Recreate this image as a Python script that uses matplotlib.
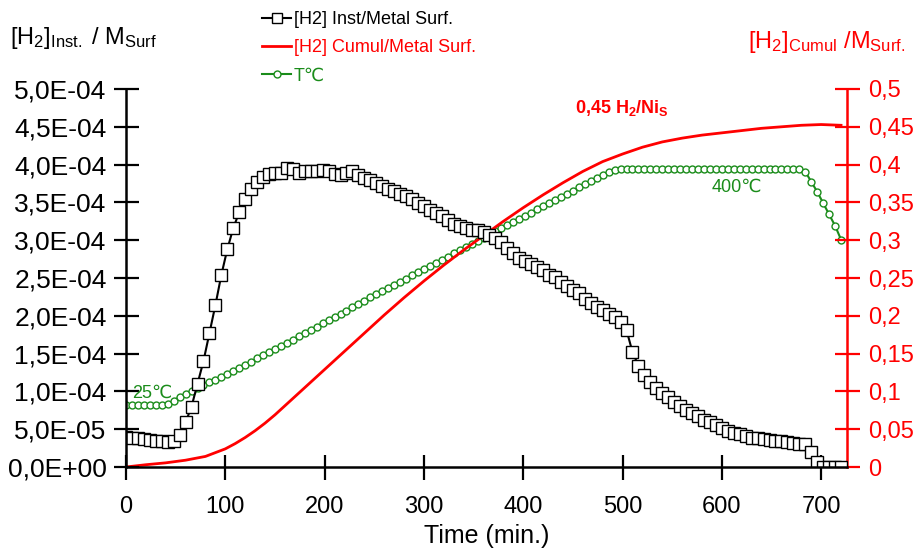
import matplotlib
matplotlib.use("Agg")
import matplotlib.pyplot as plt
import matplotlib.ticker as ticker
from matplotlib.lines import Line2D

plt.rcParams['font.family'] = ['Liberation Sans', 'DejaVu Sans']
plt.rcParams['mathtext.fontset'] = 'custom'
plt.rcParams['mathtext.rm'] = 'Liberation Sans'
plt.rcParams['mathtext.it'] = 'Liberation Sans'
plt.rcParams['mathtext.bf'] = 'Liberation Sans:bold'

# --- Daten ---
# Zeitraster in min (ca. 6 min Abstand)
zeit = [0, 6, 12, 18, 24, 30, 36, 42, 48, 54, 60, 66, 72, 78, 84, 90, 96, 102, 108, 114,
        120, 126, 132, 138, 144, 150, 156, 162, 168, 174, 180, 186, 192, 198, 204, 210, 216, 222, 228, 234,
        240, 246, 252, 258, 264, 270, 276, 282, 288, 294, 300, 306, 312, 318, 324, 330, 336, 342, 348, 354,
        360, 366, 372, 378, 384, 390, 396, 402, 408, 414, 420, 426, 432, 438, 444, 450, 456, 462, 468, 474,
        480, 486, 492, 498, 504, 510, 516, 522, 528, 534, 540, 546, 552, 558, 564, 570, 576, 582, 588, 594,
        600, 606, 612, 618, 624, 630, 636, 642, 648, 654, 660, 666, 672, 678, 684, 690, 696, 702, 708, 714,
        720]

# [H2] inst / Metal Surf. (Einheit 1E-04)
h2_inst = [0.40, 0.39, 0.38, 0.37, 0.36, 0.35, 0.34, 0.33, 0.34, 0.42, 0.59, 0.80, 1.10, 1.40, 1.77, 2.14, 2.54, 2.88, 3.16, 3.37,
           3.55, 3.68, 3.77, 3.84, 3.88, 3.89, 3.89, 3.96, 3.94, 3.89, 3.91, 3.92, 3.92, 3.93, 3.92, 3.88, 3.86, 3.89, 3.92, 3.86,
           3.82, 3.80, 3.76, 3.72, 3.68, 3.65, 3.61, 3.58, 3.54, 3.49, 3.45, 3.40, 3.36, 3.32, 3.27, 3.22, 3.19, 3.16, 3.14, 3.13,
           3.11, 3.07, 3.03, 2.97, 2.90, 2.83, 2.76, 2.72, 2.69, 2.65, 2.60, 2.54, 2.51, 2.45, 2.39, 2.34, 2.30, 2.22, 2.17, 2.12,
           2.08, 2.03, 1.99, 1.92, 1.81, 1.52, 1.34, 1.22, 1.13, 1.05, 0.98, 0.92, 0.86, 0.81, 0.75, 0.71, 0.67, 0.62, 0.59, 0.55,
           0.51, 0.48, 0.45, 0.43, 0.41, 0.39, 0.38, 0.37, 0.36, 0.35, 0.34, 0.33, 0.32, 0.31, 0.30, 0.20, 0.07, 0.00, 0.00, 0.00,
           0.00]

# Temperatur in °C
temp = [25, 25, 25, 25, 25, 25, 25, 27, 32, 38, 43, 48, 52, 57, 61, 65, 70, 74, 79, 84,
        89, 94, 99, 104, 109, 114, 119, 124, 129, 134, 139, 144, 149, 155, 160, 165, 170, 175, 180, 185,
        190, 196, 201, 206, 211, 216, 221, 226, 231, 236, 241, 246, 251, 256, 261, 266, 271, 276, 281, 286,
        291, 296, 301, 306, 311, 316, 321, 326, 331, 336, 341, 346, 351, 356, 361, 366, 371, 376, 381, 386,
        391, 396, 399, 400, 400, 400, 400, 400, 400, 400, 400, 400, 400, 400, 400, 400, 400, 400, 400, 400,
        400, 400, 400, 400, 400, 400, 400, 400, 400, 400, 400, 400, 400, 400, 396, 380, 364, 346, 328, 310,
        288]

# [H2] kumuliert / Metal Surf.
zeit_cumul = [0, 20, 40, 60, 80, 100, 110, 120, 130, 140, 150, 160, 170, 180, 190, 200, 220, 240, 260, 280, 300, 320,
              340, 360, 380, 400, 420, 440, 460, 480, 500, 520, 540, 560, 580, 600, 620, 640, 660, 680, 700, 720]
h2_cumul = [0.000, 0.003, 0.0055, 0.009, 0.014, 0.024, 0.031, 0.039, 0.048, 0.058, 0.069, 0.081, 0.093, 0.105,
            0.117, 0.129, 0.153, 0.177, 0.201, 0.224, 0.246, 0.267, 0.287, 0.306, 0.325, 0.343, 0.360, 0.376, 0.391,
            0.404, 0.414, 0.423, 0.430, 0.435, 0.439, 0.442, 0.445, 0.448, 0.450, 0.452, 0.453, 0.452]

xticks = [0, 100, 200, 300, 400, 500, 600, 700]
left_ticks = [0, 5e-5, 1e-4, 1.5e-4, 2e-4, 2.5e-4, 3e-4, 3.5e-4, 4e-4, 4.5e-4, 5e-4]
right_ticks = [0, 0.05, 0.1, 0.15, 0.2, 0.25, 0.3, 0.35, 0.4, 0.45, 0.5]

rot = '#ff0000'
gruen = '#1a8c1a'

fig = plt.figure(figsize=(9.15, 5.5), dpi=100)
ax = fig.add_axes([126 / 915, 83 / 550, 721 / 915, 378 / 550])
ax2 = ax.twinx()
ax3 = ax.twinx()

# Reihenfolge: Temperatur unten, kumuliert Mitte, inst oben
ax3.set_zorder(1)
ax2.set_zorder(2)
ax.set_zorder(3)
ax.patch.set_visible(False)
ax2.patch.set_visible(False)

# --- Temperatur (versteckte Achse) ---
ax3.plot(zeit, temp, color=gruen, lw=1.5, marker='o', ms=5, mfc='white', mec=gruen, mew=1.0)
ax3.set_ylim(-73.6, 527.4)
ax3.axis('off')

# --- kumuliert (rechte Achse) ---
ax2.plot(zeit_cumul, h2_cumul, color=rot, lw=2)
ax2.set_ylim(0, 0.5)
ax2.set_yticks(right_ticks)
ax2.yaxis.set_major_formatter(ticker.FuncFormatter(lambda v, p: ('%g' % round(v, 2)).replace('.', ',')))
ax2.tick_params(axis='y', colors=rot, labelsize=17, direction='inout', length=18, width=1.6, pad=6)
for s in ['left', 'top', 'bottom']:
    ax2.spines[s].set_visible(False)
ax2.spines['right'].set_color(rot)
ax2.spines['right'].set_linewidth(1.8)

# --- inst (linke Achse) ---
ax.plot(zeit, [v * 1e-4 for v in h2_inst], color='black', lw=1.5, marker='s', ms=8,
        mfc='white', mec='black', mew=1.0)
ax.set_xlim(0, 726)
ax.set_ylim(0, 5e-4)
ax.set_xticks(xticks)
ax.set_yticks(left_ticks)
ax.yaxis.set_major_formatter(ticker.FuncFormatter(lambda v, p: ('%.1E' % v).replace('.', ',')))
ax.tick_params(axis='both', direction='inout', length=18, width=1.6)
ax.tick_params(axis='y', labelsize=19, pad=5)
ax.tick_params(axis='x', labelsize=17, pad=12)
for s in ['right', 'top']:
    ax.spines[s].set_visible(False)
for s in ['left', 'bottom']:
    ax.spines[s].set_linewidth(1.8)
ax.set_xlabel('Time (min.)', fontsize=18, labelpad=4)

# --- Beschriftungen ---
fig.text(10 / 915, 1 - 38 / 550, r'[H$_2$]$_{\mathrm{Inst.}}$ / M$_{\mathrm{Surf}}$', fontsize=17,
         va='center', ha='left')
fig.text(905 / 915, 1 - 42 / 550, r'[H$_2$]$_{\mathrm{Cumul}}$ /M$_{\mathrm{Surf.}}$', fontsize=17,
         va='center', ha='right', color=rot)
fig.text(575 / 915, 1 - 108 / 550, r'0,45 H$_\mathbf{2}$/Ni$_\mathbf{S}$', fontsize=13, fontweight='bold',
         color=rot, va='center', ha='left')
fig.text(152 / 915, 1 - 393 / 550, '25℃', fontsize=13, color=gruen, va='center', ha='center')
fig.text(737 / 915, 1 - 187 / 550, '400℃', fontsize=13, color=gruen, va='center', ha='center')

# --- Legende ---
handles = [Line2D([], [], color='black', lw=1.5, marker='s', ms=7, mfc='white', mec='black'),
           Line2D([], [], color=rot, lw=2),
           Line2D([], [], color=gruen, lw=1.5, marker='o', ms=5, mfc='white', mec=gruen)]
labels = ['[H2] Inst/Metal Surf.', '[H2] Cumul/Metal Surf.', 'T℃']
leg = fig.legend(handles, labels, loc='upper left', bbox_to_anchor=(255 / 915, 1 - 4 / 550),
                 frameon=False, fontsize=13, handlelength=1.6, handletextpad=0.15,
                 labelspacing=0.62, borderaxespad=0)
for txt, c in zip(leg.get_texts(), ['black', rot, gruen]):
    txt.set_color(c)

plt.savefig('out.png', dpi=100)
